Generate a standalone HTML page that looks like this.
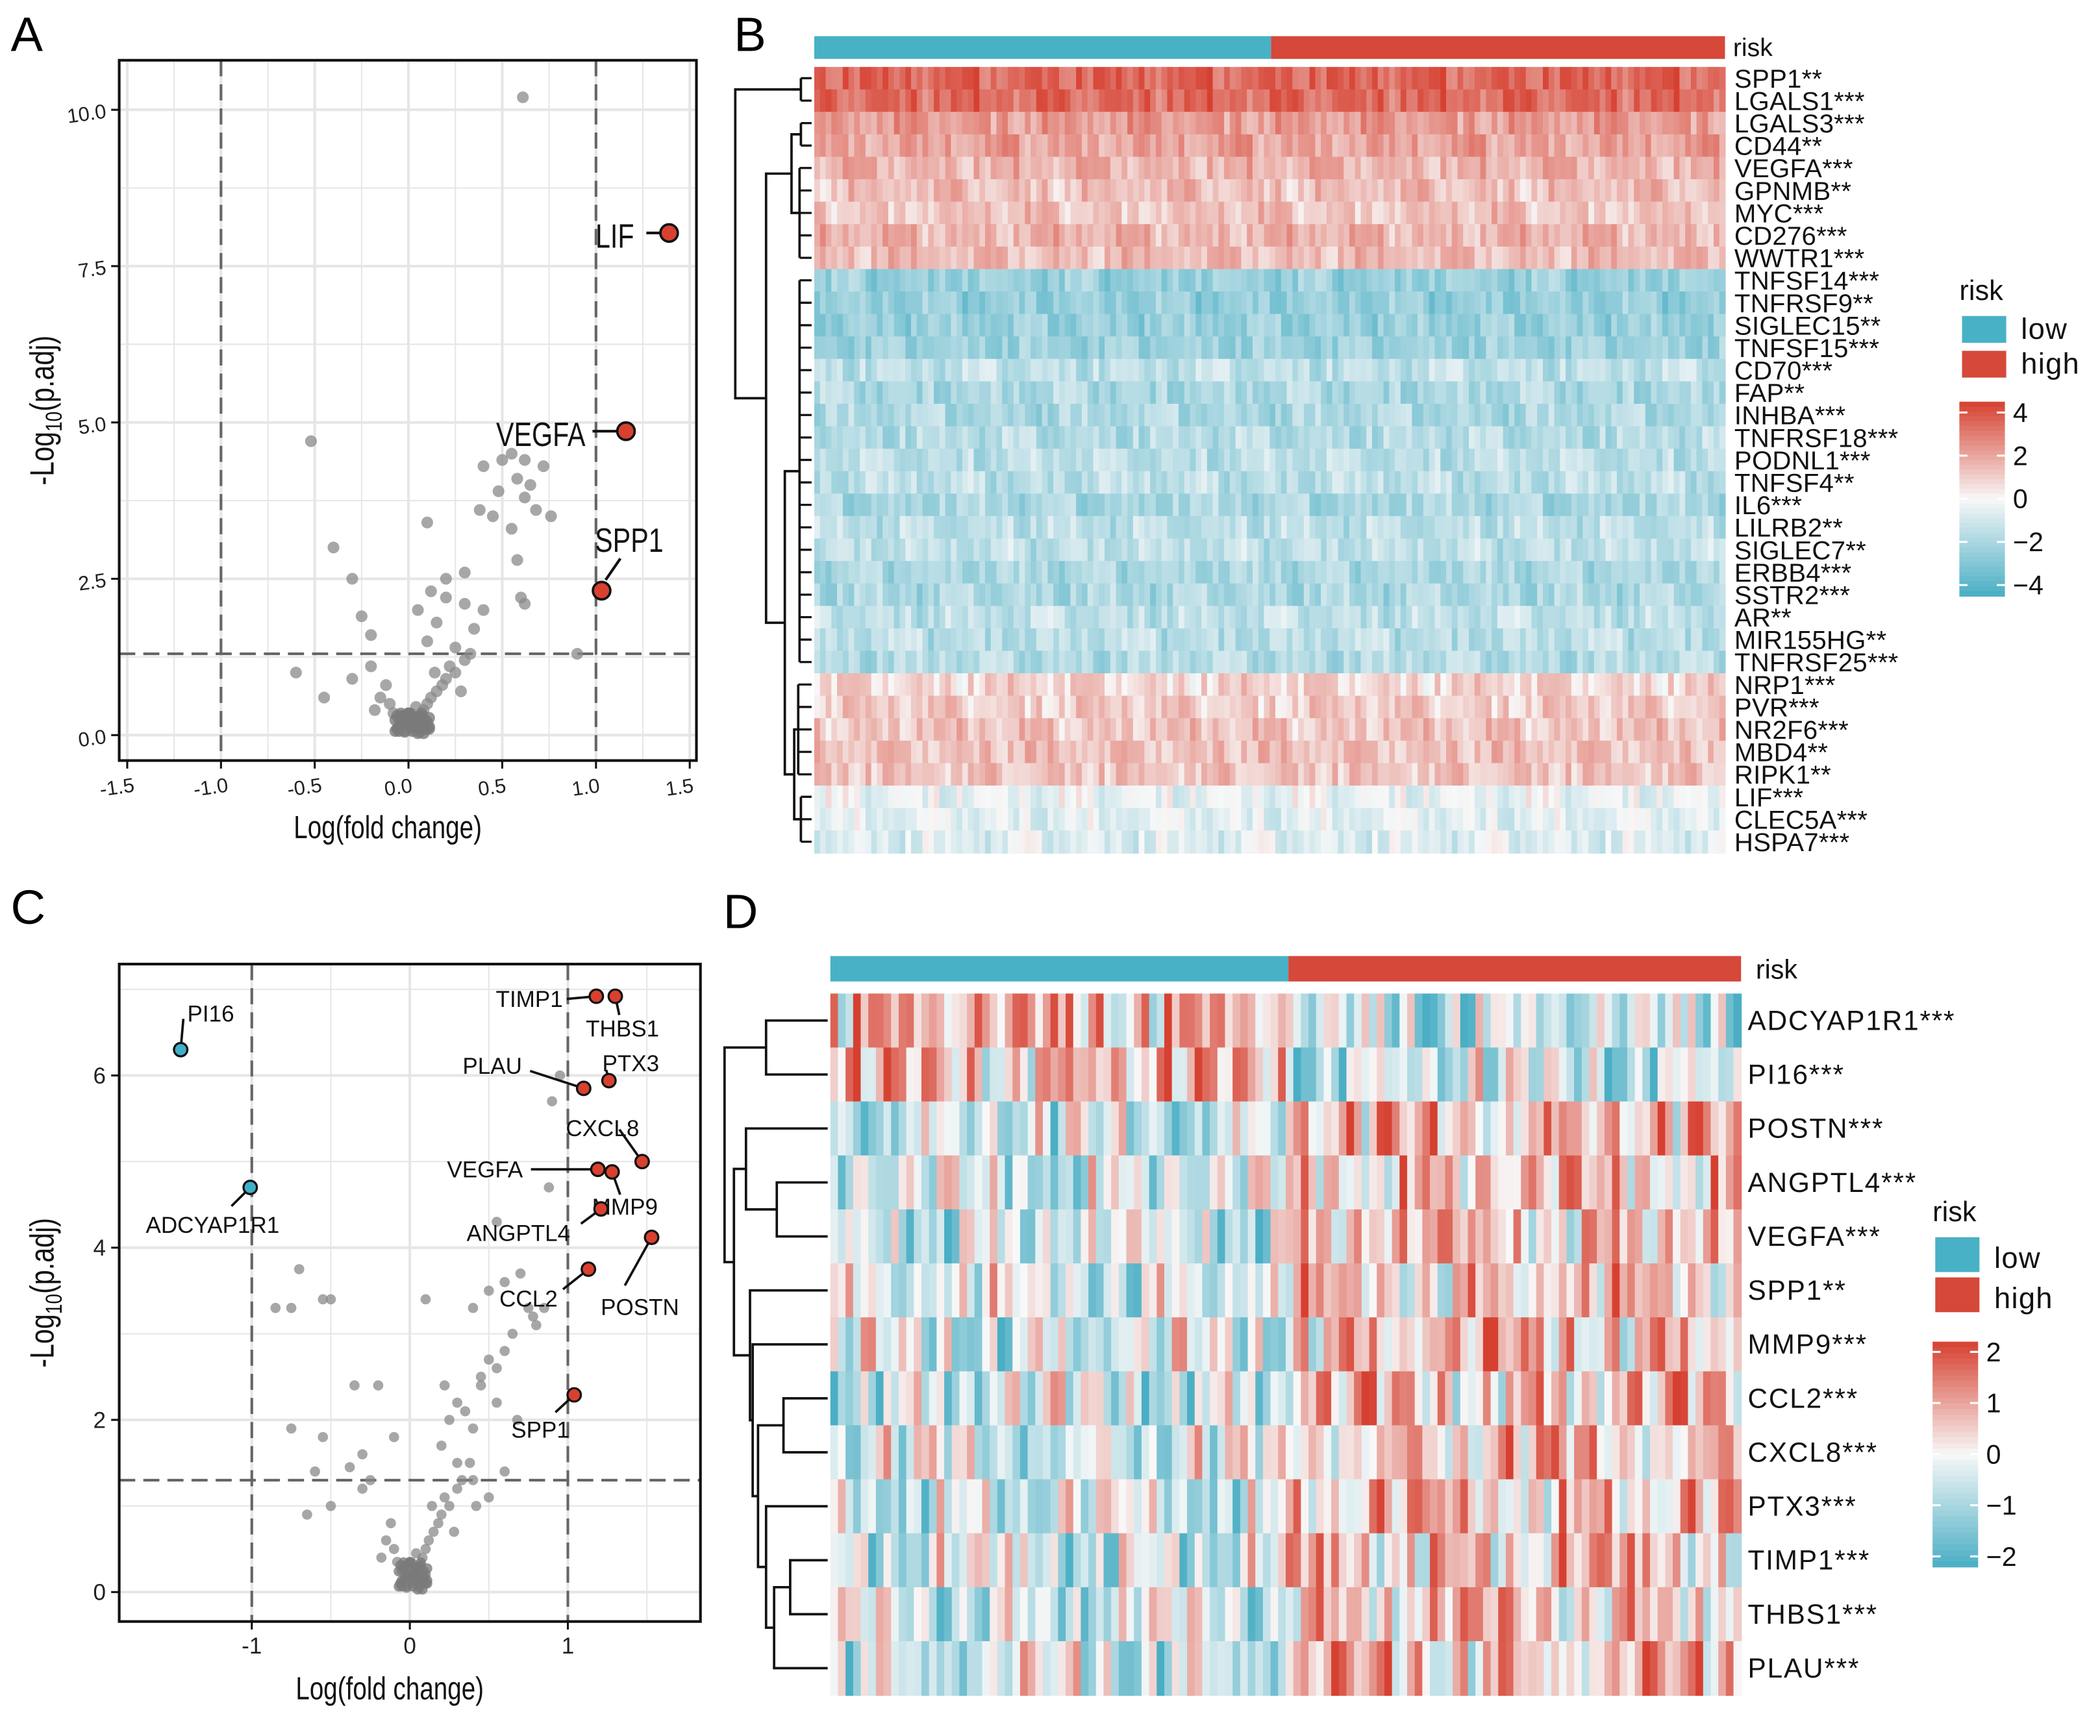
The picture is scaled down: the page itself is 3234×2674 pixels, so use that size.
<!DOCTYPE html>
<html><head><meta charset="utf-8">
<style>
html,body{margin:0;padding:0;background:#fff;}
svg{display:block;}
text{font-family:"Liberation Sans",Arial,sans-serif;}
</style></head>
<body>
<svg id="fig" xmlns="http://www.w3.org/2000/svg" width="3234" height="2674" viewBox="0 0 1568 1296.5">
<rect x="0" y="0" width="1568" height="1297" fill="#fff"/>
<text x="8" y="38" font-size="36">A</text>
<text x="548" y="38" font-size="36">B</text>
<text x="8" y="690" font-size="36">C</text>
<text x="540" y="693" font-size="36">D</text>
<g id="gA"></g><g id="gB"></g><g id="gC"></g><g id="gD"></g>
</svg>
<script>
// ---------- DATA ----------
// Panel A volcano
const aGrayX=[0.61,-0.52,0.4,0.5,0.55,0.62,0.72,0.65,0.58,0.48,0.38,0.1,0.45,0.62,0.68,0.76,0.55,-0.4,0.58,0.3,0.2,-0.3,0.12,0.2,0.3,0.4,0.05,0.15,-0.25,0.35,0.6,0.62,-0.2,0.1,0.25,0.9,-0.6,-0.45,-0.3,-0.2,0.0,0.02,-0.03,0.05,-0.05,0.08,-0.08,0.1,0.12,-0.1,0.15,0.18,0.2,-0.15,0.06,-0.02,0.03,0.0,0.25,0.22,0.3,-0.12,0.04,-0.06,0.33,0.28,-0.18,0.14];
const aGrayY=[10.2,4.7,4.3,4.4,4.5,4.4,4.3,4.0,4.1,3.9,3.6,3.4,3.5,3.8,3.6,3.5,3.3,3.0,2.8,2.6,2.5,2.5,2.3,2.2,2.1,2.0,2.0,1.8,1.9,1.7,2.2,2.1,1.6,1.5,1.4,1.3,1.0,0.6,0.9,1.1,0.1,0.2,0.15,0.3,0.25,0.4,0.35,0.5,0.6,0.5,0.7,0.8,0.9,0.6,0.05,0.05,0.12,0.35,1.0,1.1,1.2,0.8,0.45,0.1,1.3,0.7,0.4,1.0];
const aHiNames=["LIF","VEGFA","SPP1"];
const aHiX=[1.39,1.16,1.03];
const aHiY=[8.03,4.86,2.31];
const aXTicks=[-1.5,-1.0,-0.5,0.0,0.5,1.0,1.5];
const aYTicks=[0,2.5,5,7.5,10];
const aYTickLabels=["0.0","2.5","5.0","7.5","10.0"];
// Panel C volcano
const cGrayX=[-0.7,-0.55,-0.5,-0.75,-0.85,0.1,0.4,0.5,0.6,0.55,0.75,0.8,0.65,-0.35,-0.2,0.3,0.45,0.55,0.6,0.55,0.35,-0.3,-0.1,-0.75,-0.55,-0.6,-0.5,-0.65,0.2,0.3,0.4,0.5,0.6,0.4,0.9,0.88,0.95,0.7,0.78,0.85,0.22,0.25,0.45,0.5,0.68,0.0,0.02,-0.03,0.05,-0.05,0.08,-0.08,0.1,0.12,-0.1,0.15,0.18,0.2,-0.15,0.06,-0.02,0.03,0.0,0.25,0.22,0.3,-0.12,0.04,-0.06,0.33,0.28,-0.18,0.14,-0.25,-0.3,0.38,0.42,-0.38];
const cGrayY=[3.75,3.4,3.4,3.3,3.3,3.4,3.3,3.5,3.6,4.3,3.3,3.1,3.0,2.4,2.4,2.2,2.5,2.6,2.8,2.2,2.1,1.6,1.8,1.9,1.8,1.4,1.0,0.9,1.7,1.5,1.3,1.1,1.4,1.9,5.7,4.7,6.0,3.7,3.2,3.3,2.4,2.0,2.4,2.7,2.0,0.1,0.2,0.15,0.3,0.25,0.4,0.35,0.5,0.6,0.5,0.7,0.8,0.9,0.6,0.05,0.05,0.12,0.35,1.0,1.1,1.2,0.8,0.45,0.1,1.3,0.7,0.4,1.0,1.3,1.2,1.5,1.0,1.45];
const cHiNames=["PI16","ADCYAP1R1","TIMP1","THBS1","PLAU","PTX3","CXCL8","VEGFA","MMP9","ANGPTL4","POSTN","CCL2","SPP1"];
const cHiX=[-1.45,-1.01,1.18,1.30,1.10,1.26,1.47,1.19,1.28,1.21,1.53,1.13,1.04];
const cHiY=[6.3,4.7,6.92,6.92,5.85,5.94,5.0,4.91,4.88,4.45,4.12,3.75,2.29];
const cHiUp=[false,false,true,true,true,true,true,true,true,true,true,true,true];
const cXTicks=[-1,0,1];
const cYTicks=[0,2,4,6];
// Panel B heatmap
const bGenes=["SPP1**","LGALS1***","LGALS3***","CD44**","VEGFA***","GPNMB**","MYC***","CD276***","WWTR1***","TNFSF14***","TNFRSF9**","SIGLEC15**","TNFSF15***","CD70***","FAP**","INHBA***","TNFRSF18***","PODNL1***","TNFSF4**","IL6***","LILRB2**","SIGLEC7**","ERBB4***","SSTR2***","AR**","MIR155HG**","TNFRSF25***","NRP1***","PVR***","NR2F6***","MBD4**","RIPK1**","LIF***","CLEC5A***","HSPA7***"];
const bBase=[3.5,3.4,2.2,2.0,1.6,1.3,1.2,1.6,1.4,-2.5,-2.6,-2.5,-2.4,-1.5,-2.0,-2.0,-1.8,-1.6,-1.6,-2.1,-1.6,-1.5,-2.0,-2.0,-1.5,-1.6,-1.8,0.8,1.0,1.2,1.3,1.2,-0.4,-0.6,-0.7];
const bTickLabels=["4","2","0","\u22122","\u22124"];
const bTickVals=[4,2,0,-2,-4];
// Panel D heatmap
const dGenes=["ADCYAP1R1***","PI16***","POSTN***","ANGPTL4***","VEGFA***","SPP1**","MMP9***","CCL2***","CXCL8***","PTX3***","TIMP1***","THBS1***","PLAU***"];
const dLowMean=[0.7,0.6,-0.6,-0.5,-0.5,-0.4,-0.5,-0.5,-0.5,-0.5,-0.5,-0.5,-0.5];
const dHighMean=[-0.7,-0.6,0.6,0.5,0.5,0.4,0.6,0.5,0.5,0.5,0.5,0.5,0.5];
const dTickLabels=["2","1","0","\u22121","\u22122"];
const dTickVals=[2,1,0,-1,-2];
// per-sample variation (read coarsely)
const noise=[0.3,-0.6,0.9,-0.2,0.5,-0.9,0.1,0.7,-0.4,0.2,-0.8,0.6,-0.1,0.4,-0.7,0.8,-0.3,0.0,0.9,-0.5,0.3,-0.9,0.6,-0.2,0.1,0.7,-0.6,0.4,-0.8,0.2,0.5,-0.4,0.8,-0.1,-0.7,0.6,0.0,-0.3,0.9,-0.5,0.2];

// ---------- HELPERS ----------
const NS="http://www.w3.org/2000/svg";
function mk(parent,tag,attrs,txt){const e=document.createElementNS(NS,tag);for(const k in attrs)e.setAttribute(k,attrs[k]);if(txt!==undefined)e.textContent=txt;parent.appendChild(e);return e;}
function lerp(a,b,t){return a+(b-a)*t;}
function hcol(v,m){let t=Math.max(-1,Math.min(1,v/m));const w=[248,248,248],r=[214,64,48],b=[74,174,196];const c=t>=0?r:b;const a=Math.abs(t);return "rgb("+[0,1,2].map(i=>Math.round(lerp(w[i],c[i],a))).join(",")+")";}

// ---------- VOLCANO ----------
function volcano(g,o){
  const sx=v=>o.x0+v*o.kx, sy=v=>o.y0-v*o.ky;
  o.xTicks.forEach(t=>{[t,t+o.xStep/2].forEach((v,i)=>{const x=sx(v);if(x>o.L&&x<o.R){const l=mk(g,"line",{x1:x,x2:x,y1:o.T,y2:o.B,stroke:"#e6e6e6","stroke-width":i?1:2});}});});
  o.yTicks.forEach(t=>{[t,t+o.yStep/2].forEach((v,i)=>{const y=sy(v);if(y>o.T&&y<o.B){const l=mk(g,"line",{x1:o.L,x2:o.R,y1:y,y2:y,stroke:"#e6e6e6","stroke-width":i?1:2});}});});
  [-1,1].forEach(v=>{const l=mk(g,"line",{x1:sx(v),x2:sx(v),y1:o.T,y2:o.B,stroke:"#666","stroke-width":2,"stroke-dasharray":"12,6"});});
  const hl=mk(g,"line",{x1:o.L,x2:o.R,y1:sy(1.3),y2:sy(1.3),stroke:"#666","stroke-width":2,"stroke-dasharray":"12,6"});
  
  o.gx.forEach((v,i)=>{const c=mk(g,"circle",{cx:sx(v),cy:sy(o.gy[i]),r:o.pr,fill:"#8a8a8a","fill-opacity":0.75});});
  for(let i=0;i<noise.length;i++){const c=mk(g,"circle",{cx:sx(noise[i]*0.1+0.02),cy:sy(Math.abs(noise[(i*7)%noise.length])*0.35+0.03),r:o.pr,fill:"#7a7a7a","fill-opacity":0.8});}
  const bx=mk(g,"rect",{x:o.L,y:o.T,width:o.R-o.L,height:o.B-o.T,fill:"none",stroke:"#111","stroke-width":2});
  
  o.xTicks.forEach((t,i)=>{const x=sx(t);mk(g,"line",{x1:x,x2:x,y1:o.B,y2:o.B+6,stroke:"#111","stroke-width":1.5});const tx=mk(g,"text",{x:x-(o.rot?7:0),y:o.B+24,"font-size":o.tfs,"text-anchor":"middle",fill:"#222",transform:o.rot?"rotate(-8 "+x+" "+(o.B+24)+")":""},o.xLab[i]);});
  o.yTicks.forEach((t,i)=>{const y=sy(t);mk(g,"line",{x1:o.L-6,x2:o.L,y1:y,y2:y,stroke:"#111","stroke-width":1.5});const tx=mk(g,"text",{x:o.L-10,y:y+6,"font-size":o.tfs,"text-anchor":"end",fill:"#222",transform:o.rot?"rotate(-8 "+(o.L-10)+" "+y+")":""},o.yLab[i]);});
  const xt=mk(g,"text",{x:0,y:0,"font-size":24,"text-anchor":"middle",fill:"#111",transform:"translate("+((o.L+o.R)/2-15)+" "+(o.B+58)+") scale(0.78 1)"},"Log(fold change)");
  
  const cy=(o.T+o.B)/2;
  const yt=mk(g,"text",{x:0,y:0,"font-size":25,"text-anchor":"middle",fill:"#111",transform:"translate(40 "+cy+") rotate(-90) scale(0.8 1)"});
  
  mk(yt,"tspan",{},"-Log");mk(yt,"tspan",{"font-size":17,dy:6},"10");mk(yt,"tspan",{dy:-6},"(p.adj)");
  return {sx,sy};
}

// Panel A
(function(){
  const g=document.getElementById("gA");
  const s=volcano(g,{L:89,R:520,T:45,B:568,x0:305,kx:140,y0:549,ky:46.7,xTicks:aXTicks,xStep:0.5,yTicks:aYTicks,yStep:2.5,
    xLab:aXTicks.map(v=>v.toFixed(1)),yLab:aYTickLabels,gx:aGrayX,gy:aGrayY,pr:4.4,tfs:15,rot:true});
  const off=[[-55,2],[-97,2],[-5,-38]];
  aHiX.forEach((v,i)=>{
    const x=s.sx(v),y=s.sy(aHiY[i]);
    const lx=x+off[i][0],ly=y+off[i][1];
    if(i<2){mk(g,"line",{x1:lx+(i?72:38),y1:y,x2:x-6,y2:y,stroke:"#111","stroke-width":2});}
    else{mk(g,"line",{x1:x+3,y1:y-8,x2:x+14,y2:y-24,stroke:"#111","stroke-width":2});}
    const t=mk(g,"text",{x:0,y:0,"font-size":25,fill:"#111",transform:"translate("+lx+" "+(ly+9)+") scale(0.8 1)"},aHiNames[i]);
    
    const c=mk(g,"circle",{cx:x,cy:y,r:6.5,fill:"#d8412f",stroke:"#111","stroke-width":1.8});
    
  });
})();

// Panel C
(function(){
  const g=document.getElementById("gC");
  const s=volcano(g,{L:89,R:523,T:720,B:1211,x0:306,kx:118,y0:1189,ky:64.3,xTicks:cXTicks,xStep:1,yTicks:cYTicks,yStep:2,
    xLab:["-1","0","1"],yLab:cYTicks.map(String),gx:cGrayX,gy:cGrayY,pr:3.8,tfs:17,rot:false});
  const lab=[[5,-27,"start",2,-23],[-78,28,"start",-14,14],[-25,2,"end",-22,2],[-22,24,"start",3,14],[-46,-17,"end",-40,-13],[-5,-13,"start",-2,-8],[-57,-25,"start",-17,-24],[-56,0,"end",-50,0],[-15,26,"start",6,17],[-23,18,"end",-15,11],[-38,52,"start",-20,36],[-23,22,"end",-19,15],[-47,26,"start",-14,13]];
  cHiX.forEach((v,i)=>{
    const x=s.sx(v),y=s.sy(cHiY[i]);const L=lab[i];
    mk(g,"line",{x1:x,y1:y,x2:x+L[3],y2:y+L[4],stroke:"#111","stroke-width":1.8});
    const t=mk(g,"text",{x:x+L[0],y:y+L[1]+6,"font-size":17,"text-anchor":L[2],fill:"#111"},cHiNames[i]);
    
    const c=mk(g,"circle",{cx:x,cy:y,r:5,fill:cHiUp[i]?"#d8412f":"#3fb0c8",stroke:"#111","stroke-width":1.6});
    
  });
})();

// ---------- HEATMAPS ----------
function riskBar(g,x0,x1,split,y,h,lx,fs){
  const a=mk(g,"rect",{x:x0,y:y,width:split-x0,height:h,fill:"#48b1c6"});
  const b=mk(g,"rect",{x:split,y:y,width:x1-split,height:h,fill:"#d5483a"});
  const t=mk(g,"text",{x:lx,y:y+h-2,"font-size":fs,fill:"#111"},"risk");
}
function legend(g,x,y,boxH,gap,cbY,cbH,labels,vals,maxv){
  const t=mk(g,"text",{x:x,y:y,"font-size":21,fill:"#111"},"risk");
  [["low","#48b1c6"],["high","#d5483a"]].forEach((e,i)=>{
    const r=mk(g,"rect",{x:x+2,y:y+12+i*gap,width:33,height:boxH,fill:e[1]});
    const tx=mk(g,"text",{x:x+46,y:y+12+i*gap+boxH-3,"font-size":22,fill:"#111","letter-spacing":0.6},e[0]);
  });
  const N=40;
  for(let i=0;i<N;i++){const v=maxv-(2*maxv)*(i+0.5)/N;mk(g,"rect",{x:x,y:cbY+i*cbH/N,width:34,height:cbH/N+0.6,fill:hcol(v,maxv)});}
  vals.forEach((v,i)=>{const yy=cbY+(maxv-v)/(2*maxv)*cbH;
    mk(g,"line",{x1:x,x2:x+6,y1:yy,y2:yy,stroke:"#fff","stroke-width":1.5});mk(g,"line",{x1:x+28,x2:x+34,y1:yy,y2:yy,stroke:"#fff","stroke-width":1.5});
    const tx=mk(g,"text",{x:x+40,y:yy+7,"font-size":20,fill:"#111"},labels[i]);});
}
function bracket(g,x,y1,y2,xa,xb){mk(g,"path",{d:"M"+xa+" "+y1+"H"+x+"V"+y2+"H"+xb,fill:"none",stroke:"#111","stroke-width":1.8});}

// Panel B
(function(){
  const g=document.getElementById("gB");
  riskBar(g,608,1288,949,27,17,1294,19);
  const X0=608,X1=1288,Y0=50,rh=587/bGenes.length,NC=160,cw=(X1-X0)/NC;
  bGenes.forEach((gn,r)=>{
    for(let c=0;c<NC;c++){
      const v=bBase[r]+0.9*noise[(c*7+r*11)%noise.length]+0.4*noise[(c*3+r*5)%noise.length];
      const e=mk(g,"rect",{x:X0+c*cw,y:Y0+r*rh,width:cw+0.5,height:rh+0.5,fill:hcol(v,4.5)});
      
      
    }
    const t=mk(g,"text",{x:1295,y:Y0+(r+0.5)*rh+7,"font-size":19.5,fill:"#111","letter-spacing":0.1},gn);
    
  });
  const ry=i=>Y0+(i+0.5)*rh;
  const clusters=[[0,1,598],[2,3,598],[4,8,597],[9,26,597],[27,31,596],[32,34,598]];
  clusters.forEach(cl=>{for(let i=cl[0];i<=cl[1];i++)mk(g,"line",{x1:cl[2],x2:606,y1:ry(i),y2:ry(i),stroke:"#111","stroke-width":1.6});
    mk(g,"line",{x1:cl[2],x2:cl[2],y1:ry(cl[0]),y2:ry(cl[1]),stroke:"#111","stroke-width":1.8});});
  const mid=(a,b)=>(ry(a)+ry(b))/2;
  const m01=mid(0,1),m23=mid(2,3),m48=mid(4,8),m926=mid(9,26),m2731=mid(27,31),m3234=mid(32,34);
  const n3=(m23+m48)/2; bracket(g,591,m23,m48,598,597);
  const n5=(m2731+m3234)/2; bracket(g,593,m2731,m3234,596,598);
  const n4=(m926+n5)/2; bracket(g,586,m926,n5,597,593);
  const n2=(n3+n4)/2; bracket(g,572,n3,n4,591,586);
  bracket(g,549,m01,n2,598,572);
  mk(g,"line",{x1:598,x2:591,y1:m01,y2:m01,stroke:"#111","stroke-width":1.8});
  legend(g,1463,224,20,26,300,145,bTickLabels,bTickVals,4.5);
})();

// Panel D
(function(){
  const g=document.getElementById("gD");
  riskBar(g,620,1300,962,714,19,1311,20);
  const X0=620,X1=1300,Y0=742,rh=524/dGenes.length,NC=120,cw=(X1-X0)/NC,split=60;
  dGenes.forEach((gn,r)=>{
    for(let c=0;c<NC;c++){
      const m=c<split?dLowMean[r]:dHighMean[r];
      const v=m+1.3*noise[(c*5+r*3)%noise.length]+0.8*noise[(c*3+r*7+2)%noise.length];
      const e=mk(g,"rect",{x:X0+c*cw,y:Y0+r*rh,width:cw+0.5,height:rh+0.5,fill:hcol(v,2.2)});
      
      
    }
    const t=mk(g,"text",{x:1305,y:Y0+(r+0.5)*rh+7,"font-size":20.5,fill:"#111","letter-spacing":0.9},gn);
    
  });
  const ry=i=>Y0+(i+0.5)*rh, L=618;
  bracket(g,572,ry(0),ry(1),L,L);
  bracket(g,580,ry(3),ry(4),L,L);
  const nPA=(ry(2)+(ry(3)+ry(4))/2)/2; bracket(g,557,ry(2),(ry(3)+ry(4))/2,L,580);
  bracket(g,585,ry(7),ry(8),L,L); const nCC=(ry(7)+ry(8))/2;
  bracket(g,590,ry(10),ry(11),L,L); const nTT=(ry(10)+ry(11))/2;
  bracket(g,578,nTT,ry(12),590,L); const nTP=(nTT+ry(12))/2;
  bracket(g,572,ry(9),nTP,L,578); const nP=(ry(9)+nTP)/2;
  bracket(g,566,nCC,nP,585,572); const nC=(nCC+nP)/2;
  bracket(g,562,ry(6),nC,L,566); const nM=(ry(6)+nC)/2;
  bracket(g,560,ry(5),nM,L,562); const nS=(ry(5)+nM)/2;
  bracket(g,548,nPA,nS,557,560); const nR=(nPA+nS)/2;
  bracket(g,541,(ry(0)+ry(1))/2,nR,572,548);
  legend(g,1443,912,26,30,1002,168,dTickLabels,dTickVals,2.2);
})();
</script>
</body></html>
